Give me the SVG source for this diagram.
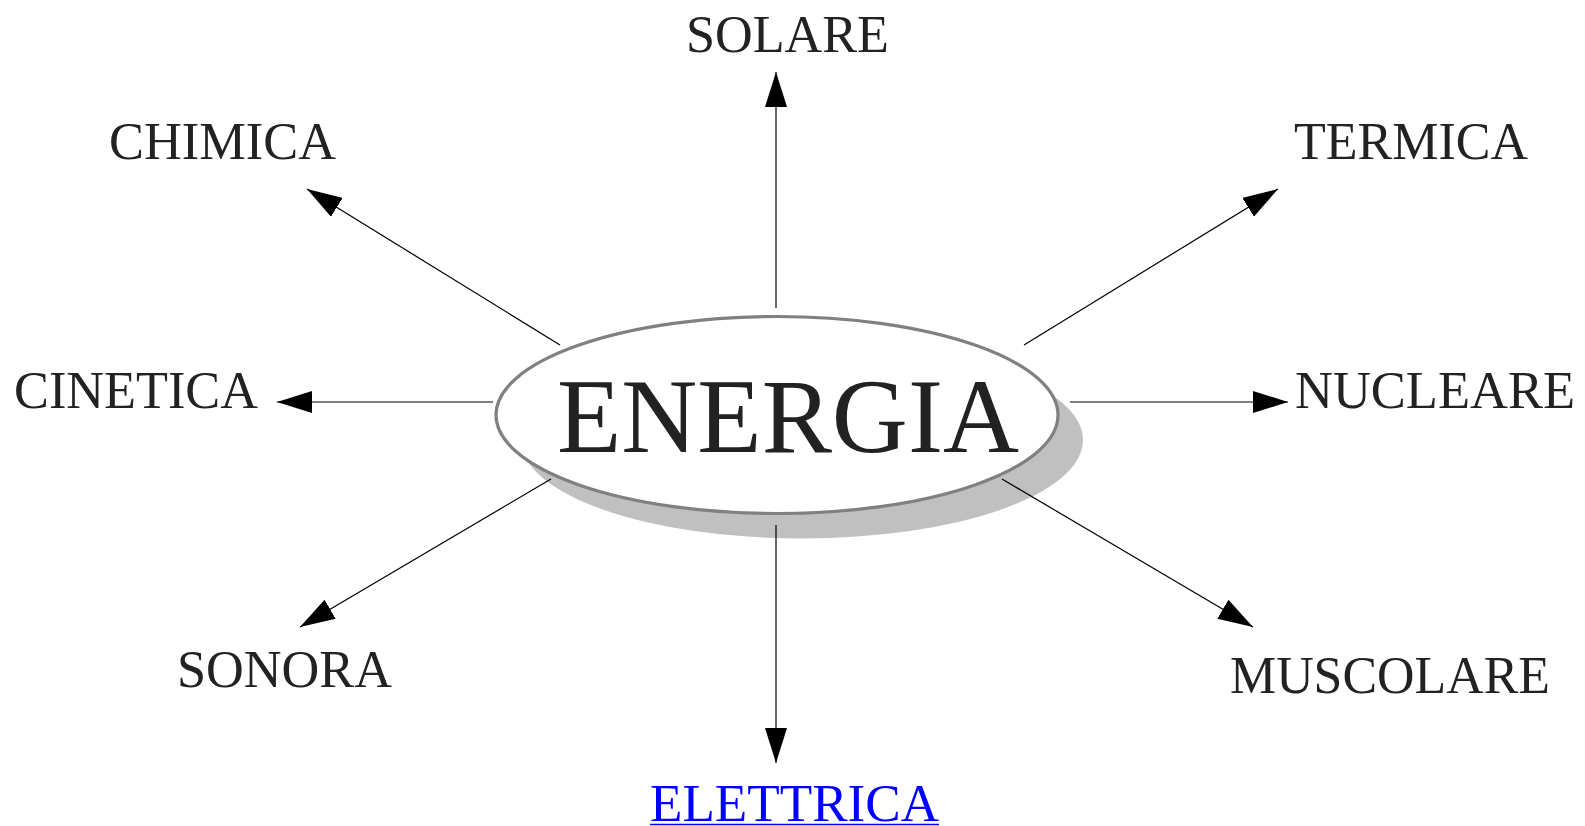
<svg xmlns="http://www.w3.org/2000/svg" width="1585" height="826" viewBox="0 0 1585 826">
<style>
.lbl{font-family:"Liberation Serif","Times New Roman",serif;font-size:53px;fill:#222}
.link{font-family:"Liberation Serif","Times New Roman",serif;font-size:53px;fill:#0000ff}
.conn{stroke:#000;stroke-width:1.2;fill:none;marker-end:url(#arr)}
</style>
<defs>
<marker id="arr" viewBox="0 0 35 22" refX="35" refY="11" markerWidth="35" markerHeight="22" markerUnits="userSpaceOnUse" orient="auto">
<path d="M0,0 L35,11 L0,22 Z" fill="#000"/>
</marker>
</defs>
<rect width="1585" height="826" fill="#fff"/>
<g id="energia">
<ellipse cx="802" cy="440" rx="281" ry="98.5" fill="#c0c0c0"/>
<ellipse cx="777" cy="415" rx="281" ry="98.5" fill="#fff" stroke="#808080" stroke-width="3.2"/>
<text x="788" y="452" text-anchor="middle" textLength="462" lengthAdjust="spacingAndGlyphs" style="font-family:'Liberation Serif','Times New Roman',serif;font-size:106px;fill:#222">ENERGIA</text>
</g>
<g id="connectors">
<line class="conn" x1="776" y1="308" x2="776" y2="72"/>
<line class="conn" x1="776" y1="525" x2="776" y2="763"/>
<line class="conn" x1="493" y1="402" x2="277" y2="402"/>
<line class="conn" x1="1070" y1="402" x2="1288" y2="402"/>
<line class="conn" x1="560" y1="345" x2="307" y2="189"/>
<line class="conn" x1="1024" y1="345" x2="1278" y2="189"/>
<line class="conn" x1="551" y1="479" x2="300" y2="627"/>
<line class="conn" x1="1002" y1="479" x2="1253" y2="627"/>
</g>
<g id="solare"><text class="lbl" x="686" y="51.5" textLength="203" lengthAdjust="spacingAndGlyphs">SOLARE</text></g>
<g id="chimica"><text class="lbl" x="109" y="159" textLength="227" lengthAdjust="spacingAndGlyphs">CHIMICA</text></g>
<g id="termica"><text class="lbl" x="1294" y="159" textLength="234" lengthAdjust="spacingAndGlyphs">TERMICA</text></g>
<g id="cinetica"><text class="lbl" x="14" y="408" textLength="244" lengthAdjust="spacingAndGlyphs">CINETICA</text></g>
<g id="nucleare"><text class="lbl" x="1295" y="408" textLength="280" lengthAdjust="spacingAndGlyphs">NUCLEARE</text></g>
<g id="sonora"><text class="lbl" x="177" y="687" textLength="215" lengthAdjust="spacingAndGlyphs">SONORA</text></g>
<g id="muscolare"><text class="lbl" x="1230" y="693" textLength="320" lengthAdjust="spacingAndGlyphs">MUSCOLARE</text></g>
<g id="elettrica">
<text class="link" x="650" y="821" textLength="289" lengthAdjust="spacingAndGlyphs">ELETTRICA</text>
<line x1="650" y1="824.5" x2="939" y2="824.5" stroke="#0000ff" stroke-width="1.6"/>
</g>
</svg>
